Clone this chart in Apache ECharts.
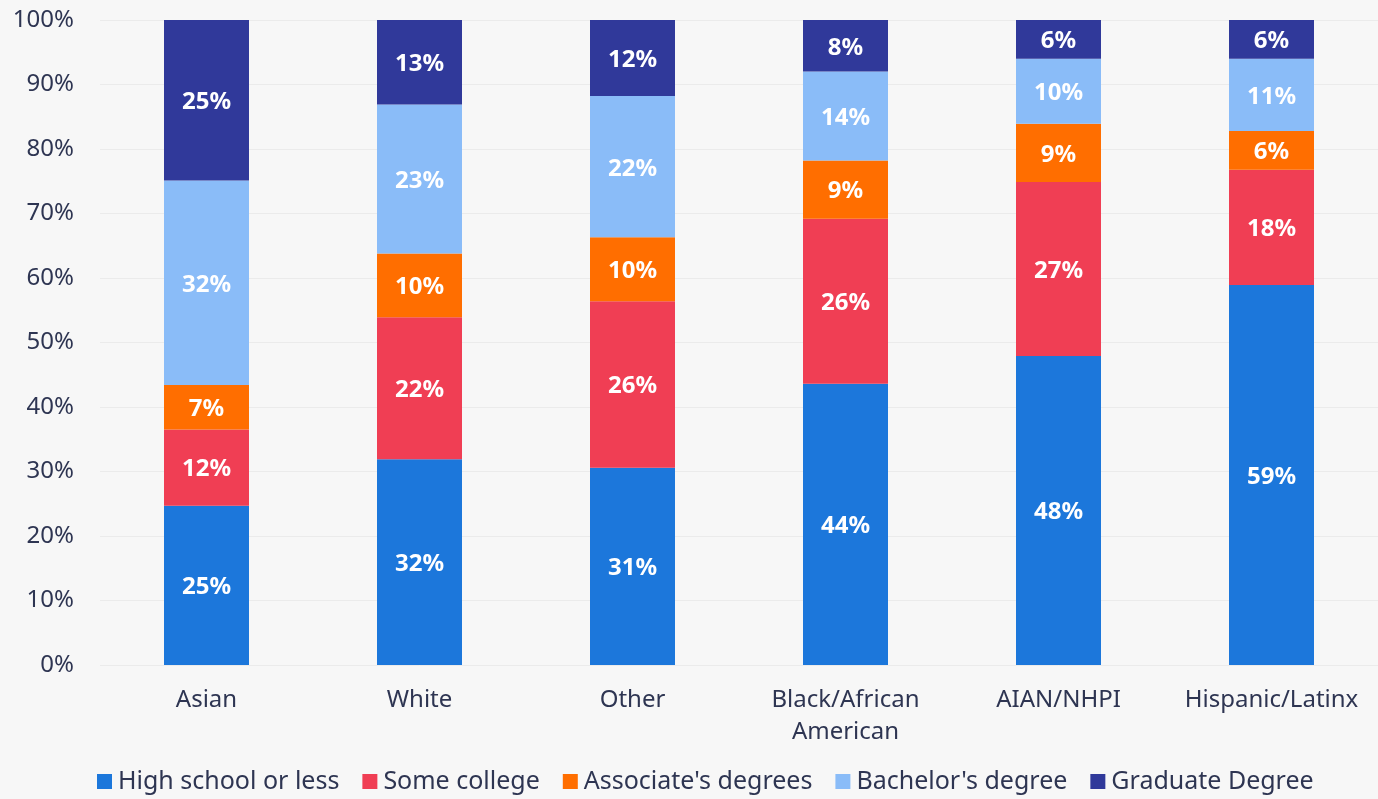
<!DOCTYPE html>
<html>
<head>
<meta charset="utf-8">
<script src="https://cdn.jsdelivr.net/npm/echarts@6/dist/echarts.min.js"></script>
<style>
html,body{margin:0;padding:0;background:#f7f7f7;}
#chart{width:1378px;height:799px;}
</style>
</head>
<body>
<div id="chart"></div>
<script>
const categories = ['Asian', 'White', 'Other', 'Black/African\nAmerican', 'AIAN/NHPI', 'Hispanic/Latinx'];
const seriesNames = ['High school or less', 'Some college', "Associate's degrees", "Bachelor's degree", 'Graduate Degree'];
const highSchool = [24.7, 31.9, 30.6, 43.6, 47.9, 58.9];
const someCollege = [11.8, 22.0, 25.8, 25.6, 27.0, 17.9];
const associates = [6.9, 9.9, 9.9, 9.0, 9.0, 6.0];
const bachelors = [31.7, 23.1, 21.9, 13.8, 10.1, 11.2];
const graduate = [24.9, 13.2, 11.8, 8.1, 6.0, 6.0];
const yTicks = [0, 10, 20, 30, 40, 50, 60, 70, 80, 90, 100];

const colors = ['#1c77db', '#f03e54', '#ff6e00', '#8abcf8', '#30399a'];
const values = [highSchool, someCollege, associates, bachelors, graduate];
const font = '"Noto Sans", "Open Sans", sans-serif';
const textColor = '#2e3552';

const chart = echarts.init(document.getElementById('chart'));
chart.setOption({
  backgroundColor: '#f7f7f7',
  color: colors,
  textStyle: { fontFamily: font },
  grid: { left: 100, right: 0, top: 20, bottom: 134, containLabel: false },
  legend: {
    bottom: 0,
    left: 92,
    itemWidth: 15,
    itemHeight: 15,
    itemGap: 23,
    icon: 'rect',
    textStyle: { fontSize: 25, color: textColor, fontFamily: font, padding: [0, 0, 0, 1] },
    data: seriesNames
  },
  xAxis: {
    type: 'category',
    data: categories,
    axisLine: { show: false },
    axisTick: { show: false },
    axisLabel: { interval: 0, fontSize: 24, color: textColor, margin: 19, lineHeight: 32, fontFamily: font }
  },
  yAxis: {
    type: 'value',
    min: yTicks[0],
    max: yTicks[yTicks.length - 1],
    interval: 10,
    axisLine: { show: false },
    axisTick: { show: false },
    splitLine: { lineStyle: { color: '#ebebeb', width: 1 } },
    axisLabel: { fontSize: 24, color: textColor, margin: 26, formatter: v => v + '%', fontFamily: font }
  },
  series: seriesNames.map((name, i) => ({
    name: name,
    type: 'bar',
    stack: 'total',
    barWidth: 85,
    data: values[i],
    itemStyle: { color: colors[i] },
    label: {
      show: true,
      position: 'inside',
      offset: [0, 2],
      color: '#ffffff',
      fontWeight: 'bold',
      fontSize: 24,
      fontFamily: font,
      formatter: p => Math.round(p.value) + '%'
    }
  }))
});
</script>
</body>
</html>
